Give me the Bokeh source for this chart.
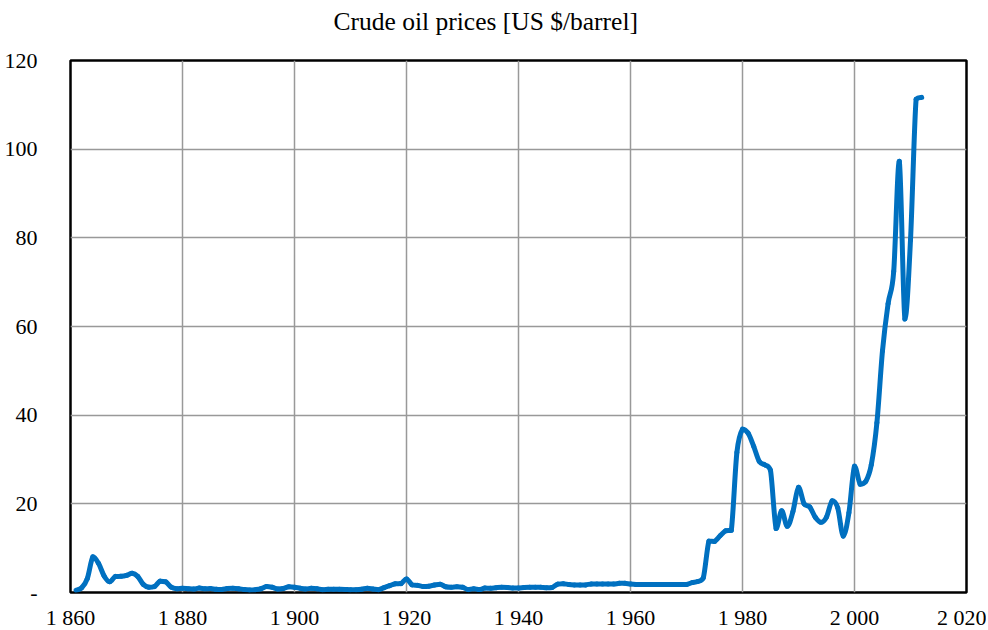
import numpy as np
from bokeh.plotting import figure
from bokeh.models import Range1d, FixedTicker, CustomJSTickFormatter, ColumnDataSource, Title
from bokeh.embed import file_html
from bokeh.resources import INLINE

years = list(range(1861, 2013))
prices = [0.49, 1.05, 3.15, 8.06, 6.59, 3.74, 2.41, 3.63, 3.64, 3.86,
          4.34, 3.64, 1.83, 1.17, 1.35, 2.56, 2.42, 1.19, 0.86, 0.95,
          0.86, 0.78, 1.00, 0.84, 0.88, 0.71, 0.67, 0.88, 0.94, 0.87,
          0.67, 0.56, 0.64, 0.84, 1.36, 1.18, 0.79, 0.91, 1.29, 1.19,
          0.96, 0.80, 0.94, 0.86, 0.62, 0.73, 0.72, 0.72, 0.70, 0.61,
          0.61, 0.74, 0.95, 0.81, 0.64, 1.10, 1.56, 1.98, 2.01, 3.07,
          1.73, 1.61, 1.34, 1.43, 1.68, 1.88, 1.30, 1.17, 1.27, 1.19,
          0.65, 0.87, 0.67, 1.00, 0.97, 1.09, 1.18, 1.13, 1.02, 1.02,
          1.14, 1.19, 1.20, 1.21, 1.05, 1.12, 1.90, 1.99, 1.78, 1.71,
          1.71, 1.71, 1.93, 1.93, 1.93, 1.93, 1.90, 2.08, 2.08, 1.90,
          1.80, 1.80, 1.80, 1.80, 1.80, 1.80, 1.80, 1.80, 1.80, 1.80,
          2.24, 2.48, 3.29, 11.58, 11.53, 12.80, 13.92, 14.02, 31.61, 36.83,
          35.93, 32.97, 29.55, 28.78, 27.56, 14.43, 18.44, 14.92, 18.23, 23.73,
          20.00, 19.32, 16.97, 15.82, 17.02, 20.67, 19.09, 12.72, 17.97, 28.50,
          24.44, 25.02, 28.83, 38.27, 54.52, 65.14, 72.39, 97.26, 61.67, 79.50,
          111.26, 111.67]

title_text = "Crude oil prices [US $/barrel]"
x_ticks = [1860, 1880, 1900, 1920, 1940, 1960, 1980, 2000, 2020]
y_ticks = [0, 20, 40, 60, 80, 100, 120]

# Smoothed curve drawn as Bezier segments (control points derived from data,
# clamped to each segment's value range to avoid overshoot)
X = np.array(years, dtype=float)
Y = np.array(prices, dtype=float)
n = len(X)
Xp = np.concatenate([[X[0]], X, [X[-1]]])
Yp = np.concatenate([[Y[0]], Y, [Y[-1]]])
seg = dict(x0=[], y0=[], x1=[], y1=[], cx0=[], cy0=[], cx1=[], cy1=[])
for i in range(n - 1):
    j = i + 1
    lo, hi = min(Y[i], Y[i + 1]), max(Y[i], Y[i + 1])
    seg["x0"].append(X[i]); seg["y0"].append(Y[i])
    seg["x1"].append(X[i + 1]); seg["y1"].append(Y[i + 1])
    seg["cx0"].append(X[i] + (Xp[j + 1] - Xp[j - 1]) / 6)
    seg["cy0"].append(float(np.clip(Y[i] + (Yp[j + 1] - Yp[j - 1]) / 6, lo, hi)))
    seg["cx1"].append(X[i + 1] - (Xp[j + 2] - Xp[j]) / 6)
    seg["cy1"].append(float(np.clip(Y[i + 1] - (Yp[j + 2] - Yp[j]) / 6, lo, hi)))
src = ColumnDataSource(seg)

FONT = "Liberation Serif"

p = figure(frame_width=896, frame_height=532, output_backend="svg", toolbar_location=None,
           x_range=Range1d(1860, 2020), y_range=Range1d(0, 120),
           min_border_left=70, min_border_right=20, min_border_top=60, min_border_bottom=38,
           title=None)

# spacer (closest to frame) then the real title above it
p.add_layout(Title(text=" ", text_font_size="8px", standoff=14), "above")
p.add_layout(Title(text=title_text, text_font=FONT, text_font_size="25.5px",
                   text_font_style="normal", text_color="#000000",
                   align="left", offset=263, standoff=0), "above")

p.bezier(x0="x0", y0="y0", x1="x1", y1="y1", cx0="cx0", cy0="cy0", cx1="cx1", cy1="cy1",
         source=src, line_color="#0070C0", line_width=5, line_cap="round")

p.outline_line_color = "#000000"
p.outline_line_width = 2.5
p.outline_line_alpha = 1

for ax in (p.xaxis[0], p.yaxis[0]):
    ax.axis_line_color = None
    ax.major_tick_line_color = None
    ax.minor_tick_line_color = None
    ax.major_label_text_font = FONT
    ax.major_label_text_font_size = "22px"
    ax.major_label_text_color = "#000000"

p.xaxis.ticker = FixedTicker(ticks=x_ticks)
p.yaxis.ticker = FixedTicker(ticks=y_ticks)
p.xaxis.formatter = CustomJSTickFormatter(code="""
    const s = Math.round(tick).toString();
    return s.length > 3 ? s.slice(0, s.length - 3) + ' ' + s.slice(-3) : s;
""")
p.yaxis.formatter = CustomJSTickFormatter(code="""
    return tick == 0 ? '-' : Math.round(tick).toString();
""")
p.xaxis.major_label_standoff = 6
p.yaxis.major_label_standoff = 27

p.xgrid.grid_line_color = "#999999"
p.ygrid.grid_line_color = "#999999"
p.xgrid.grid_line_width = 1.5
p.ygrid.grid_line_width = 1.5

open("out.html", "w").write(file_html(p, INLINE))
